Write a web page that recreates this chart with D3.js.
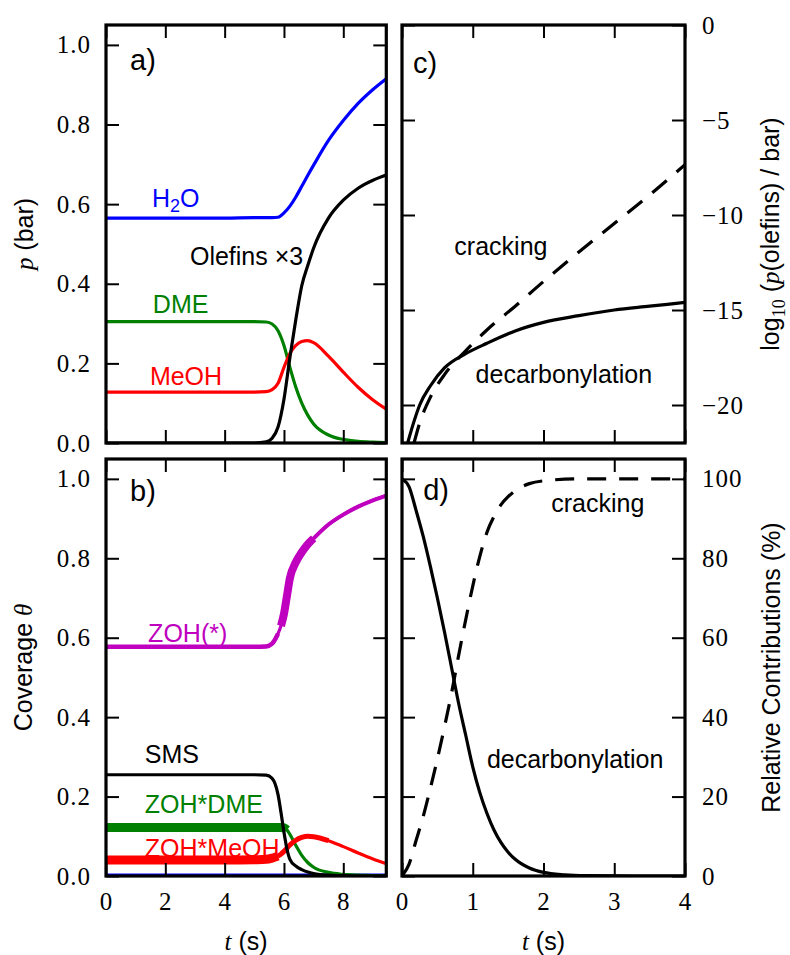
<!DOCTYPE html>
<html>
<head>
<meta charset="utf-8">
<script src="https://cdn.jsdelivr.net/npm/d3@7"></script>
<style>
  body { margin: 0; background: #fff; }
  svg { display: block; }
  .tick text { font-family: "Liberation Serif", "Times New Roman", serif; font-size: 25px; letter-spacing: 1px; fill: #000; }
  .tick line { stroke: #000; stroke-width: 2; }
  .lbl { font-family: "Liberation Sans", Arial, sans-serif; font-size: 25px; }
  .it { font-family: "Liberation Serif", serif; font-style: italic; }
  .serif { font-family: "Liberation Serif", serif; }
</style>
</head>
<body>
<div id="chart"></div>
<script>
// a) gas phase partial pressures (bar)
var tA = [0, 1, 2, 3, 4, 5, 5.4, 5.6, 5.8, 6.0, 6.2, 6.4, 6.6, 6.8, 7.0, 7.5, 8.0, 8.5, 9.0, 9.45];
var pH2O = [0.565, 0.565, 0.565, 0.565, 0.565, 0.566, 0.566, 0.566, 0.567, 0.578, 0.595, 0.618, 0.645, 0.672, 0.698, 0.76, 0.81, 0.853, 0.888, 0.915];
var pOlefins3 = [0, 0, 0, 0, 0, 0, 0.003, 0.012, 0.04, 0.11, 0.215, 0.31, 0.395, 0.445, 0.49, 0.565, 0.61, 0.64, 0.66, 0.673];
var pDME = [0.305, 0.305, 0.305, 0.305, 0.305, 0.305, 0.304, 0.299, 0.282, 0.245, 0.19, 0.14, 0.1, 0.07, 0.048, 0.02, 0.009, 0.004, 0.002, 0.001];
var pMeOH = [0.128, 0.128, 0.128, 0.128, 0.128, 0.128, 0.129, 0.134, 0.15, 0.19, 0.225, 0.245, 0.255, 0.257, 0.252, 0.218, 0.178, 0.14, 0.108, 0.085];

// b) surface coverages
var tB = [0, 1, 2, 3, 4, 5, 5.4, 5.6, 5.8, 5.9, 6.0, 6.1, 6.2, 6.4, 6.6, 6.8, 7.0, 7.5, 8.0, 8.5, 9.0, 9.45];
var thZOH = [0.577, 0.577, 0.577, 0.577, 0.577, 0.577, 0.578, 0.585, 0.61, 0.63, 0.66, 0.705, 0.75, 0.79, 0.815, 0.835, 0.85, 0.885, 0.91, 0.93, 0.946, 0.958];
var thSMS = [0.255, 0.255, 0.255, 0.255, 0.255, 0.255, 0.254, 0.246, 0.205, 0.16, 0.11, 0.068, 0.042, 0.025, 0.016, 0.01, 0.006, 0.002, 0.001, 0, 0, 0];
var thDME = [0.122, 0.122, 0.122, 0.122, 0.122, 0.122, 0.122, 0.122, 0.122, 0.122, 0.121, 0.116, 0.105, 0.077, 0.052, 0.034, 0.022, 0.009, 0.004, 0.002, 0.001, 0];
var thMeOH = [0.04, 0.04, 0.04, 0.04, 0.04, 0.041, 0.042, 0.045, 0.05, 0.055, 0.062, 0.07, 0.078, 0.09, 0.097, 0.1, 0.099, 0.089, 0.074, 0.058, 0.043, 0.031];
var thH2O = [0.002, 0.002, 0.002, 0.002, 0.002, 0.002, 0.002, 0.002, 0.002, 0.002, 0.002, 0.002, 0.002, 0.002, 0.002, 0.002, 0.002, 0.002, 0.002, 0.002, 0.002, 0.002];

// c) log10 olefin pressure per route
var tCdec = [0.08, 0.15, 0.25, 0.4, 0.6, 0.9, 1.2, 1.6, 2.0, 2.5, 3.0, 3.5, 4.0];
var logDecarb = [-22, -21.1, -20.0, -19.0, -18.05, -17.3, -16.75, -16.1, -15.65, -15.3, -15.0, -14.8, -14.6];
var tCcrk = [0.17, 0.245, 0.4, 0.6, 0.9, 1.2, 1.6, 2.0, 2.5, 3.0, 3.5, 4.0];
var logCrack = [-22, -21.0, -19.6, -18.4, -17.15, -16.05, -14.8, -13.5, -11.95, -10.45, -8.95, -7.35];

// d) relative contributions (%)
var tDdec = [0, 0.1, 0.2, 0.3, 0.4, 0.5, 0.6, 0.7, 0.8, 0.9, 1.0, 1.1, 1.2, 1.3, 1.4, 1.5, 1.6, 1.8, 2.0, 2.3, 2.6, 3.0, 3.5, 4.0];
var relDecarb = [100, 98, 92, 85.5, 78, 70, 61.5, 52.5, 43.5, 35.5, 27.5, 21, 15.8, 11.6, 8.4, 6, 4.2, 2, 0.9, 0.3, 0.08, 0.02, 0, 0];
var tDcrk = [0, 0.1, 0.2, 0.3, 0.4, 0.5, 0.6, 0.7, 0.8, 0.9, 1.0, 1.1, 1.2, 1.3, 1.4, 1.5, 1.6, 1.8, 2.0, 2.5, 3.0, 3.5, 4.0];
var relCrack = [0, 3, 9, 15, 22, 29.5, 37.5, 46, 55.5, 64.5, 73, 80.5, 86.5, 90.5, 93.5, 95.5, 97, 98.8, 99.5, 100, 100, 100, 100];

var ticksT1 = [0, 2, 4, 6, 8];
var ticksT2 = [0, 1, 2, 3, 4];
var ticksFrac = [0, 0.2, 0.4, 0.6, 0.8, 1.0];
var ticksLog = [-20, -15, -10, -5, 0];
var ticksPct = [0, 20, 40, 60, 80, 100];

var w = 790, h = 955;
var svg = d3.select("#chart").append("svg")
    .attr("width", w)
    .attr("height", h);

var colL = [106, 386.3], colR = [402, 685];
var rowT = [25, 443], rowB = [459, 876];

function zip(t, v) {
  return t.map(function(d, i) { return {t: d, v: v[i]}; });
}

function richText(g, parts, size) {
  var txt = g.append("text").attr("class", "lbl").style("font-size", size + "px");
  var shift = 0;
  parts.forEach(function(p) {
    var s = txt.append("tspan").text(p[0]);
    var dy = 0;
    if (p[1] == "sub" || p[1] == "subserif") {
      s.style("font-size", Math.round(size * 0.7) + "px");
      dy = size * 0.22;
      if (p[1] == "subserif") s.attr("class", "serif");
    }
    if (p[1] == "it") s.attr("class", "it");
    if (dy - shift != 0) s.attr("dy", dy - shift);
    shift = dy;
  });
  return txt;
}

var clipId = 0;
function panel(o) {
  var x = d3.scaleLinear().domain(o.xDomain).range(o.xr);
  var y = d3.scaleLinear().domain(o.yDomain).range([o.yr[1], o.yr[0]]);
  var g = svg.append("g");

  clipId++;
  g.append("clipPath").attr("id", "clip" + clipId)
    .append("rect")
      .attr("x", o.xr[0]).attr("y", o.yr[0])
      .attr("width", o.xr[1] - o.xr[0]).attr("height", o.yr[1] - o.yr[0]);

  var plot = g.append("g").attr("clip-path", "url(#clip" + clipId + ")");
  var line = d3.line()
      .x(function(d) { return x(d.t); })
      .y(function(d) { return y(d.v); })
      .curve(d3.curveMonotoneX);

  o.series.forEach(function(s) {
    var pts = zip(s.t, s.v);
    plot.append("path")
        .datum(pts)
        .attr("d", line)
        .attr("fill", "none")
        .attr("stroke", s.color)
        .attr("stroke-width", 3.2)
        .attr("stroke-dasharray", s.dash || null);
    // noisy stochastic parts are drawn as a wider band
    (s.bands || []).forEach(function(b) {
      plot.append("path")
          .datum(pts.filter(function(d) { return d.t >= b[0] && d.t <= b[1]; }))
          .attr("d", line)
          .attr("fill", "none")
          .attr("stroke", s.color)
          .attr("stroke-width", b[2]);
    });
  });

  var fmtX = d3.format("d");
  g.append("g")
      .attr("transform", "translate(0," + o.yr[1] + ")")
      .call(d3.axisBottom(x).tickValues(o.xTicks).tickSize(-13).tickPadding(16)
        .tickFormat(o.xLabels ? fmtX : ""));
  g.append("g")
      .attr("transform", "translate(0," + o.yr[0] + ")")
      .call(d3.axisTop(x).tickValues(o.xTicks).tickSize(-13).tickFormat(""));
  g.append("g")
      .attr("transform", "translate(" + o.xr[0] + ",0)")
      .call(d3.axisLeft(y).tickValues(o.yTicks).tickSize(-13).tickPadding(15)
        .tickFormat(o.side == "left" ? o.fmtY : ""));
  g.append("g")
      .attr("transform", "translate(" + o.xr[1] + ",0)")
      .call(d3.axisRight(y).tickValues(o.yTicks).tickSize(-13).tickPadding(17)
        .tickFormat(o.side == "right" ? o.fmtY : ""));
  g.selectAll(".domain").remove();

  g.append("rect")
      .attr("x", o.xr[0]).attr("y", o.yr[0])
      .attr("width", o.xr[1] - o.xr[0]).attr("height", o.yr[1] - o.yr[0])
      .attr("fill", "none")
      .attr("stroke", "#000")
      .attr("stroke-width", 3.2);

  o.labels.forEach(function(l) {
    richText(g, l.parts, l.size || 25)
        .attr("x", x(l.t))
        .attr("y", y(l.v))
        .attr("fill", l.color || "#000");
  });
  return {x: x, y: y};
}

var blue = "#0000ff", green = "#008000", red = "#ff0000", mag = "#bf00bf", black = "#000";

panel({
  xr: colL, yr: rowT, xDomain: [0, 9.45], yDomain: [0, 1.05],
  xTicks: ticksT1, yTicks: ticksFrac, xLabels: false, side: "left", fmtY: d3.format(".1f"),
  series: [
    {t: tA, v: pH2O, color: blue},
    {t: tA, v: pDME, color: green},
    {t: tA, v: pMeOH, color: red},
    {t: tA, v: pOlefins3, color: black}
  ],
  labels: [
    {parts: [["a)", ""]], t: 0.81, v: 0.937, size: 29},
    {parts: [["H", ""], ["2", "sub"], ["O", ""]], t: 1.55, v: 0.593, color: blue},
    {parts: [["Olefins \u00d73", ""]], t: 2.83, v: 0.447},
    {parts: [["DME", ""]], t: 1.58, v: 0.327, color: green},
    {parts: [["MeOH", ""]], t: 1.48, v: 0.146, color: red}
  ]
});

panel({
  xr: colL, yr: rowB, xDomain: [0, 9.45], yDomain: [0, 1.05],
  xTicks: ticksT1, yTicks: ticksFrac, xLabels: true, side: "left", fmtY: d3.format(".1f"),
  series: [
    {t: tB, v: thH2O, color: blue},
    {t: tB, v: thZOH, color: mag, bands: [[0, 5.8, 4.5], [5.9, 7.0, 8], [7.0, 9.45, 4]]},
    {t: tB, v: thDME, color: green, bands: [[0, 6.1, 9]]},
    {t: tB, v: thMeOH, color: red, bands: [[0, 5.8, 9], [5.8, 7.5, 5]]},
    {t: tB, v: thSMS, color: black}
  ],
  labels: [
    {parts: [["b)", ""]], t: 0.81, v: 0.943, size: 29},
    {parts: [["ZOH(*)", ""]], t: 1.42, v: 0.59, color: mag},
    {parts: [["SMS", ""]], t: 1.31, v: 0.284},
    {parts: [["ZOH*DME", ""]], t: 1.31, v: 0.159, color: green},
    {parts: [["ZOH*MeOH", ""]], t: 1.31, v: 0.047, color: red}
  ]
});

panel({
  xr: colR, yr: rowT, xDomain: [0, 4], yDomain: [-22, 0],
  xTicks: ticksT2, yTicks: ticksLog, xLabels: false, side: "right", fmtY: d3.format("d"),
  series: [
    {t: tCcrk, v: logCrack, color: black, dash: "19,13"},
    {t: tCdec, v: logDecarb, color: black}
  ],
  labels: [
    {parts: [["c)", ""]], t: 0.155, v: -2.53, size: 29},
    {parts: [["cracking", ""]], t: 0.74, v: -12.1},
    {parts: [["decarbonylation", ""]], t: 1.04, v: -18.83}
  ]
});

panel({
  xr: colR, yr: rowB, xDomain: [0, 4], yDomain: [0, 105],
  xTicks: ticksT2, yTicks: ticksPct, xLabels: true, side: "right", fmtY: d3.format("d"),
  series: [
    {t: tDcrk, v: relCrack, color: black, dash: "19,13"},
    {t: tDdec, v: relDecarb, color: black}
  ],
  labels: [
    {parts: [["d)", ""]], t: 0.3, v: 94.7, size: 29},
    {parts: [["cracking", ""]], t: 2.11, v: 91.7},
    {parts: [["decarbonylation", ""]], t: 1.2, v: 27.1}
  ]
});

// axis titles
function vTitle(parts, x, yc) {
  richText(svg, parts, 25)
      .attr("text-anchor", "middle")
      .attr("transform", "translate(" + x + "," + yc + ") rotate(-90)");
}
vTitle([["p", "it"], [" (bar)", ""]], 33, (rowT[0] + rowT[1]) / 2);
vTitle([["Coverage ", ""], ["\u03b8", "it"]], 32, (rowB[0] + rowB[1]) / 2);
vTitle([["log", ""], ["10", "subserif"], [" (", ""], ["p", "it"], ["(olefins) / bar)", ""]], 779, (rowT[0] + rowT[1]) / 2);
vTitle([["Relative Contributions (%)", ""]], 780, (rowB[0] + rowB[1]) / 2);

richText(svg, [["t", "it"], [" (s)", ""]], 25)
    .attr("text-anchor", "middle")
    .attr("x", (colL[0] + colL[1]) / 2).attr("y", 950);
richText(svg, [["t", "it"], [" (s)", ""]], 25)
    .attr("text-anchor", "middle")
    .attr("x", (colR[0] + colR[1]) / 2).attr("y", 950);
</script>
</body>
</html>
